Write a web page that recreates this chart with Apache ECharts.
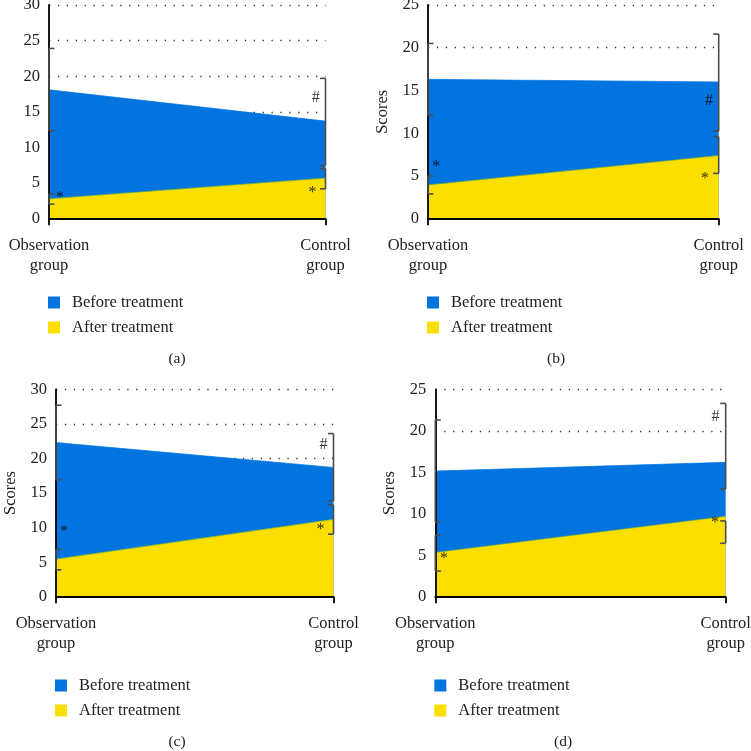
<!DOCTYPE html>
<html><head><meta charset="utf-8">
<style>html,body{margin:0;padding:0;background:#fff}#c{width:751px;height:751px}</style>
<script src="https://cdn.jsdelivr.net/npm/echarts@6/dist/echarts.min.js"></script>
</head><body><div id="c"></div>
<script>
const categories = ['Observation\ngroup', 'Control\ngroup'];
const seriesNames = ['Before treatment', 'After treatment'];
const captions = ['(a)', '(b)', '(c)', '(d)'];
const axisMaxima = [30, 25, 30, 25];
const before = [[18.1, 13.7], [16.3, 16.0], [22.3, 18.7], [15.15, 16.2]];
const after = [[2.8, 5.7], [3.95, 7.4], [5.45, 11.2], [5.35, 9.7]];
// error brackets: [group index, low, high]
const errorBefore = [
  [[0, 12.35, 23.9], [1, 7.45, 19.7]],
  [[0, 12.1, 20.5], [1, 10.25, 21.6]],
  [[0, 16.9, 27.7], [1, 13.85, 23.6]],
  [[0, 9.0, 21.3], [1, 13.0, 23.3]]
];
const errorAfter = [
  [[0, 2.05, 3.5], [1, 4.2, 7.05]],
  [[0, 2.9, 5.0], [1, 5.3, 9.6]],
  [[0, 3.9, 6.85], [1, 9.05, 13.3]],
  [[0, 3.1, 7.4], [1, 6.45, 9.15]]
];
// significance marks: [axis fraction, value, text]
const marks = [
  [[0.04, 3.2, '*'], [0.953, 3.9, '*'], [0.965, 17.3, '#']],
  [[0.028, 6.3, '*'], [0.953, 4.9, '*'], [0.967, 14.0, '#']],
  [[0.029, 9.65, '*'], [0.953, 10.0, '*'], [0.964, 22.2, '#']],
  [[0.03, 4.8, '*'], [0.963, 9.1, '*'], [0.965, 21.9, '#']]
];

const layout = [
  {left: 49, top: 5, width: 276.5, height: 213.7, legendTop: 294, capTop: 346, capX: 172, name: false},
  {left: 428, top: 5, width: 290.7, height: 213.7, legendTop: 294, capTop: 346, capX: 551, nameGap: 37, name: true},
  {left: 56, top: 389.3, width: 277.5, height: 207.5, legendTop: 677, capTop: 729, capX: 172, nameGap: 37, name: true},
  {left: 435.3, top: 389.3, width: 290.4, height: 207.5, legendTop: 677, capTop: 729, capX: 558, nameGap: 37, name: true}
];
const FONT = 'Liberation Serif';
const INK = '#222';
const BLUE = '#0274e0', YELLOW = '#fadf00';

const grid = [], xAxis = [], yAxis = [], series = [], legend = [], title = [];
layout.forEach((p, i) => {
  grid.push({left: p.left, top: p.top, width: p.width, height: p.height, outerBoundsMode: 'none'});
  xAxis.push({
    type: 'value', gridIndex: i, min: 0, max: 1, interval: 1, z: 8,
    axisLine: {show: true, lineStyle: {color: '#000', width: 1.8}},
    axisTick: {show: true, length: 6.5, lineStyle: {color: '#000', width: 1.8}},
    splitLine: {show: false},
    axisLabel: {show: true, margin: 16.5, fontFamily: FONT, fontSize: 16.5, lineHeight: 20.5, color: INK,
      showMinLabel: true, showMaxLabel: true, hideOverlap: false,
      formatter: v => categories[Math.round(v)]}
  });
  yAxis.push({
    type: 'value', gridIndex: i, min: 0, max: axisMaxima[i], interval: 5, z: 8,
    name: p.name ? 'Scores' : '', nameLocation: 'middle', nameGap: p.nameGap,
    nameTextStyle: {fontFamily: FONT, fontSize: 16.5, color: INK},
    axisLine: {show: true, onZero: false, lineStyle: {color: '#000', width: 1.8}},
    axisTick: {show: false},
    splitLine: {show: false},
    axisLabel: {margin: 9, fontFamily: FONT, fontSize: 16.5, color: INK, hideOverlap: false}
  });
});
// second value axis per panel, drawn below the areas, carrying only the dotted gridlines
layout.forEach((p, i) => {
  yAxis.push({
    type: 'value', gridIndex: i, min: 0, max: axisMaxima[i], interval: 5, z: 0,
    axisLine: {show: false}, axisTick: {show: false}, axisLabel: {show: false},
    splitLine: {show: true, showMinLine: false, lineStyle: {color: '#333', width: 1.3, type: [1.3, 7.6]}}
  });
});
layout.forEach((p, i) => {
  const area = (name, vals, color, edge, z) => ({
    type: 'line', name, xAxisIndex: i, yAxisIndex: i, symbol: 'none', silent: true, z,
    data: vals.map((v, k) => [k, v]),
    itemStyle: {color},
    lineStyle: {color: edge, width: 0.7},
    areaStyle: {color, opacity: 1}
  });
  series.push(area(seriesNames[0], before[i], BLUE, BLUE, 2));
  series.push(area(seriesNames[1], after[i], YELLOW, '#6fae3c', 3));
  series.push({
    type: 'custom', xAxisIndex: i, yAxisIndex: i, silent: true, z: 9, clip: false,
    data: errorBefore[i].concat(errorAfter[i]),
    renderItem(params, api) {
      const g = api.value(0), lo = api.coord([g, api.value(1)]), hi = api.coord([g, api.value(2)]);
      const dir = g === 0 ? 1 : -1, cap = 5.5;
      const style = {stroke: '#4d4d4d', lineWidth: 1.6, fill: null};
      const seg = (x1, y1, x2, y2) => ({type: 'line', shape: {x1, y1, x2, y2}, style});
      return {type: 'group', children: [
        seg(lo[0], lo[1], hi[0], hi[1]),
        seg(lo[0], lo[1], lo[0] + dir * cap, lo[1]),
        seg(hi[0], hi[1], hi[0] + dir * cap, hi[1])
      ]};
    }
  });
  series.push({
    type: 'scatter', xAxisIndex: i, yAxisIndex: i, silent: true, z: 10, symbolSize: 0, clip: false,
    data: marks[i].map(m => ({value: [m[0], m[1]], label: {formatter: m[2]}})),
    label: {show: true, position: 'inside', offset: [0, 2], fontFamily: FONT, fontSize: 16, color: '#000'}
  });
  legend.push({
    left: p.left - 1, top: p.legendTop, padding: 0, orient: 'vertical', selectedMode: false,
    data: seriesNames, icon: 'rect', itemWidth: 12, itemHeight: 12, itemGap: 8,
    textStyle: {fontFamily: FONT, fontSize: 16.5, color: INK, padding: [0, 0, 0, 7]}
  });
  title.push({
    text: captions[i], left: p.capX, top: p.capTop, textAlign: 'center',
    textStyle: {fontFamily: FONT, fontSize: 15.5, fontWeight: 'normal', color: INK}
  });
});

const chart = echarts.init(document.getElementById('c'), null, {renderer: 'canvas'});
chart.setOption({animation: false, backgroundColor: '#fff', grid, xAxis, yAxis, series, legend, title, tooltip: {show: false}});
</script></body></html>
